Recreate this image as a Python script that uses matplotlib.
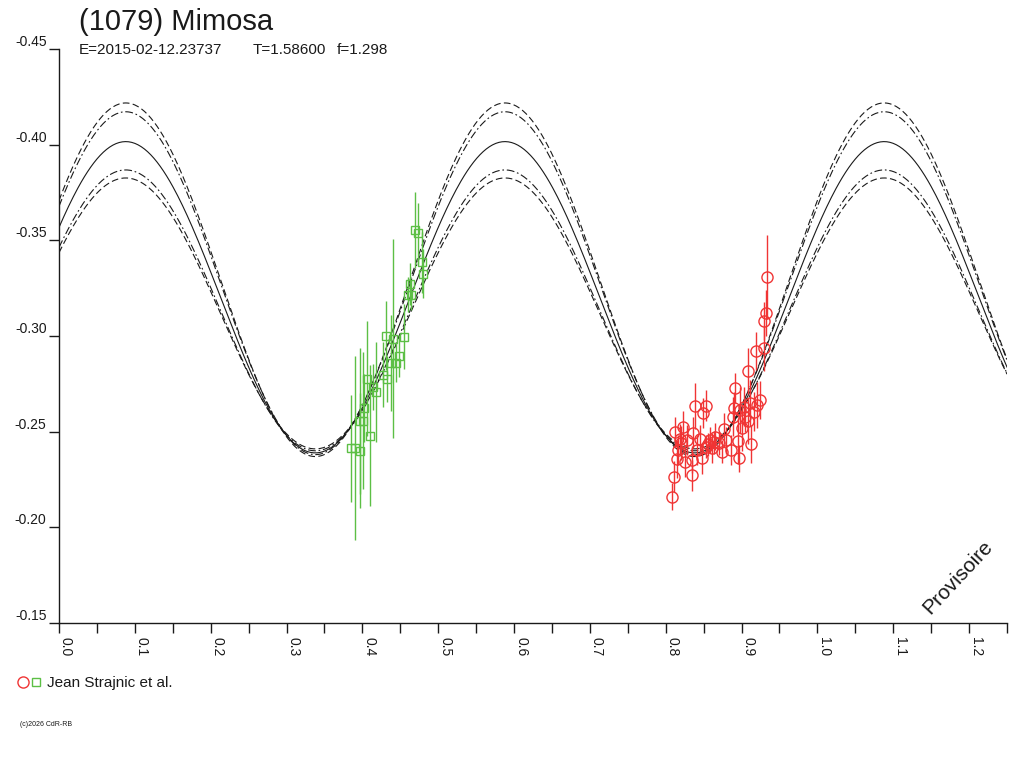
import numpy as np
import matplotlib
matplotlib.use("Agg")
import matplotlib.pyplot as plt
from matplotlib.lines import Line2D
from matplotlib.legend_handler import HandlerTuple

plt.rcParams['font.family'] = ['Liberation Sans', 'DejaVu Sans']

# ---------------- data ----------------
TITLE = "(1079) Mimosa"
SUB_E = "E=2015-02-12.23737"
SUB_T = "T=1.58600"
SUB_F = "f=1.298"
OBSERVER = "Jean Strajnic et al."

# model curves (two-peak Fourier fit): mean, half amplitude, phase of maximum
CURVE_MEAN = [-0.3294, -0.3276, -0.32025, -0.3134, -0.3118]
CURVE_AMP = [0.0924, 0.0896, 0.08135, 0.0734, 0.0708]
CURVE_PEAK = 0.088
CURVE_STYLE = ['dashed', 'dashdot', 'solid', 'dashdot', 'dashed']

# green squares (session 1)
G_PHASE = [0.470, 0.474, 0.478, 0.480, 0.4624, 0.460, 0.4645, 0.4307, 0.4403,
           0.4544, 0.4482, 0.4447, 0.4381, 0.4271, 0.4324, 0.4060, 0.4139,
           0.4174, 0.4025, 0.4007, 0.3972, 0.4095, 0.3853, 0.3901, 0.3972]
G_MAG = [-0.3554, -0.3537, -0.3386, -0.3326, -0.3274, -0.3216, -0.3215, -0.3002,
         -0.2985, -0.2997, -0.2896, -0.2861, -0.2858, -0.2797, -0.2777, -0.2777,
         -0.2732, -0.2708, -0.2624, -0.2558, -0.2555, -0.2479, -0.2414, -0.2414,
         -0.2401]
G_ERR = [0.020, 0.016, 0.016, 0.013, 0.011, 0.009, 0.008, 0.018, 0.052, 0.017,
         0.011, 0.010, 0.025, 0.017, 0.012, 0.030, 0.012, 0.026, 0.018, 0.036,
         0.038, 0.037, 0.028, 0.048, 0.030]

# red circles (session 2)
R_PHASE = [0.9335, 0.9326, 0.929, 0.9185, 0.929, 0.9089, 0.8917, 0.8384, 0.8534,
           0.8498, 0.8904, 0.8886, 0.9027, 0.8983, 0.9106, 0.9247, 0.9203, 0.9159,
           0.9049, 0.8124, 0.8225, 0.8358, 0.8454, 0.8278, 0.819, 0.8587, 0.8763,
           0.8653, 0.8697, 0.8168, 0.8411, 0.8608, 0.8740, 0.8859, 0.8947, 0.9123,
           0.8476, 0.8146, 0.8256, 0.8344, 0.896, 0.8111, 0.834, 0.8089,
           0.8563, 0.864, 0.8525, 0.879, 0.8205, 0.9000, 0.9080]
R_MAG = [-0.331, -0.3119, -0.308, -0.2922, -0.2936, -0.2816, -0.2729, -0.2636,
         -0.2636, -0.2598, -0.2626, -0.2579, -0.2631, -0.2614, -0.2649, -0.2666,
         -0.264, -0.2605, -0.2579, -0.2497, -0.2527, -0.2495, -0.2464, -0.2457,
         -0.2461, -0.2457, -0.2515, -0.2474, -0.2440, -0.2405, -0.2405, -0.2414,
         -0.2396, -0.2405, -0.2453, -0.2435, -0.2361, -0.2356, -0.2344, -0.2353,
         -0.2361, -0.2265, -0.2272, -0.2161,
         -0.2435, -0.2445, -0.2420, -0.2455, -0.2440, -0.2520, -0.2555]
R_ERR = [0.022, 0.012, 0.010, 0.010, 0.012, 0.012, 0.008, 0.012, 0.008, 0.008,
         0.008, 0.010, 0.010, 0.012, 0.012, 0.010, 0.012, 0.010, 0.008, 0.008,
         0.008, 0.008, 0.007, 0.008, 0.008, 0.007, 0.008, 0.007, 0.006, 0.008,
         0.008, 0.008, 0.006, 0.008, 0.012, 0.010, 0.008, 0.010, 0.008, 0.007,
         0.007, 0.008, 0.008, 0.007,
         0.006, 0.006, 0.006, 0.007, 0.009, 0.012, 0.012]

Y_TICKS = [-0.45, -0.40, -0.35, -0.30, -0.25, -0.20, -0.15]
X_MAJOR = [0.0, 0.1, 0.2, 0.3, 0.4, 0.5, 0.6, 0.7, 0.8, 0.9, 1.0, 1.1, 1.2]
X_MINOR = [0.05, 0.15, 0.25, 0.35, 0.45, 0.55, 0.65, 0.75, 0.85, 0.95, 1.05, 1.15, 1.25]

# ---------------- figure ----------------
W, H = 1024, 768
fig = plt.figure(figsize=(W / 100, H / 100), dpi=100)
ax = fig.add_axes([59 / W, 1 - 623 / H, (1007 - 59) / W, (623 - 49) / H])

INK = '#1a1a1a'
GREEN = '#5cbf45'
RED = '#f03434'

phase = np.linspace(0.0, 1.25, 600)
for m, a, ls in zip(CURVE_MEAN, CURVE_AMP, CURVE_STYLE):
    y = m - a * np.cos(4 * np.pi * (phase - CURVE_PEAK))
    dashes = {'dashed': (0, (6, 3)), 'dashdot': (0, (7, 2.5, 1.5, 2.5)),
              'solid': '-'}[ls]
    ax.plot(phase, y, color=INK, lw=0.8, linestyle=dashes)

ax.errorbar(G_PHASE, G_MAG, yerr=G_ERR, fmt='s', ms=5.5, mfc='none', mec=GREEN,
            mew=1.0, ecolor=GREEN, elinewidth=1.0, capsize=0, zorder=3)
ax.errorbar(R_PHASE, R_MAG, yerr=R_ERR, fmt='o', ms=8, mfc='none', mec=RED,
            mew=1.0, ecolor=RED, elinewidth=1.0, capsize=0, zorder=4)

ax.set_xlim(0.0, 1.25)
ax.set_ylim(-0.15, -0.45)
for s in ['top', 'right']:
    ax.spines[s].set_visible(False)
for s in ['left', 'bottom']:
    ax.spines[s].set_color(INK)
    ax.spines[s].set_linewidth(1.0)

ax.set_yticks(Y_TICKS)
ax.set_yticklabels([f"{v:.2f}" for v in Y_TICKS], fontsize=10, color=INK)
ax.tick_params(axis='y', direction='out', length=7, width=1, pad=2, colors=INK)
plt.setp(ax.get_yticklabels(), va='bottom')

ax.set_xticks(X_MAJOR)
ax.set_xticks(X_MINOR, minor=True)
ax.set_xticklabels([f"{v:.1f}" for v in X_MAJOR], fontsize=10, color=INK,
                   rotation=-90)
plt.setp(ax.get_xticklabels(), ha='left', va='top')
ax.tick_params(axis='x', which='both', direction='out', length=7, width=1,
               pad=3, colors=INK)

# texts
fig.text(79 / W, 1 - 8 / H, TITLE, fontsize=21, color=INK, va='top', ha='left')
fig.text(79 / W, 1 - 54 / H, SUB_E, fontsize=11, color=INK, va='baseline')
fig.text(253 / W, 1 - 54 / H, SUB_T, fontsize=11, color=INK, va='baseline')
fig.text(337 / W, 1 - 54 / H, SUB_F, fontsize=11, color=INK, va='baseline')
fig.text(958 / W, 1 - 577 / H, "Provisoire", fontsize=15, color=INK,
         rotation=47, ha='center', va='center', rotation_mode='anchor')
fig.text(20 / W, 1 - 725 / H, "(c)2026 CdR-RB", fontsize=5, color=INK,
         va='center')

h_red = Line2D([], [], marker='o', ms=8, mfc='none', mec=RED, mew=1.0, ls='none')
h_green = Line2D([], [], marker='s', ms=5.5, mfc='none', mec=GREEN, mew=1.0, ls='none')
fig.legend(handles=[(h_red, h_green)], labels=[OBSERVER],
           handler_map={tuple: HandlerTuple(ndivide=None, pad=0.1)},
           loc='center left', bbox_to_anchor=(10 / W, 1 - 683 / H),
           frameon=False, fontsize=11, handlelength=1.6, handletextpad=0.3,
           borderpad=0, labelcolor=INK)

fig.savefig("out.png", dpi=100, facecolor='white')
